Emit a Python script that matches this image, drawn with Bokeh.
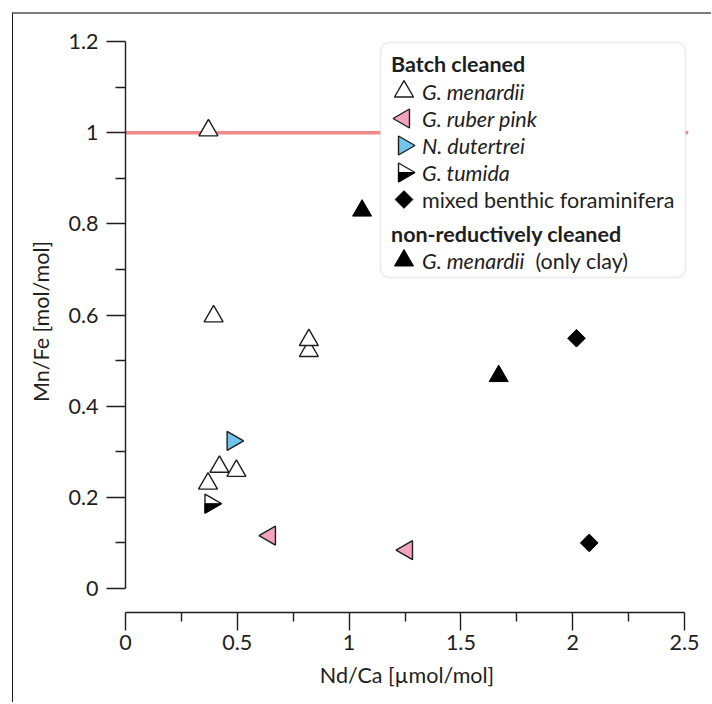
import math
from bokeh.plotting import figure
from bokeh.models import Range1d, FixedTicker, Span, BoxAnnotation, Label
from bokeh.embed import file_html
from bokeh.resources import INLINE

# ---------------- data ----------------
menardii_x = [0.371, 0.394, 0.820, 0.820, 0.420, 0.496, 0.369]
menardii_y = [1.005, 0.597, 0.521, 0.545, 0.267, 0.258, 0.230]
ruber_x = [0.646, 1.259]
ruber_y = [0.116, 0.084]
dutertrei_x = [0.479]
dutertrei_y = [0.324]
tumida_x = [0.380]
tumida_y = [0.186]
benthic_x = [2.017, 2.074]
benthic_y = [0.549, 0.100]
nonred_x = [1.058, 1.669]
nonred_y = [0.829, 0.466]
reference_mnfe = 1.0

x_ticks = [0, 0.5, 1, 1.5, 2, 2.5]
x_tick_labels = ["0", "0.5", "1", "1.5", "2", "2.5"]
x_minor = [0.25, 0.75, 1.25, 1.75, 2.25]
y_ticks = [0, 0.2, 0.4, 0.6, 0.8, 1, 1.2]
y_tick_labels = ["0", "0.2", "0.4", "0.6", "0.8", "1", "1.2"]
y_minor = [0.1, 0.3, 0.5, 0.7, 0.9, 1.1]

x_title = "Nd/Ca [\u00b5mol/mol]"
y_title = "Mn/Fe [mol/mol]"
legend_header1 = "Batch cleaned"
legend_header2 = "non-reductively cleaned"

# ---------------- layout (window pixels) ----------------
OX, OY = 13, 14                          # canvas origin inside the window
CW, CH = 712 - OX, 704 - OY              # canvas size
FL, FR, FT, FB = 125, 688, 30, 612       # frame edges (window px)
AX_X0, AX_X1 = 125, 684                  # window px of x = 0 and x = 2.5
AX_Y0, AX_Y1 = 588, 41                   # window px of y = 0 and y = 1.2
sx = (AX_X1 - AX_X0) / 2.5               # px per x unit
sy = (AX_Y0 - AX_Y1) / 1.2               # px per y unit

FONT = "Lato"
FS = "21.5px"
INK = "#1e1e1e"
SIZE = 19

p = figure(width=CW, height=CH, output_backend="svg", toolbar_location=None,
           x_range=Range1d(0, (FR - FL) / sx),
           y_range=Range1d(-(FB - AX_Y0) / sy, 1.2 + (AX_Y1 - FT) / sy),
           min_border_left=FL - OX, min_border_right=712 - FR,
           min_border_top=FT - OY, min_border_bottom=704 - FB)
p.margin = (12, 0, 0, 12)
p.styles = {"border-top": "2px solid #7c7c7c", "border-left": "1px solid #1e1e1e"}
# extra ranges that map window pixels inside the frame (for the legend)
p.extra_x_ranges = {"cx": Range1d(FL, FR)}
p.extra_y_ranges = {"cy": Range1d(FB, FT)}
p.outline_line_color = None
p.xgrid.visible = False
p.ygrid.visible = False
p.background_fill_color = "white"
p.border_fill_color = "white"

# axes
p.xaxis.ticker = FixedTicker(ticks=x_ticks, minor_ticks=x_minor)
p.yaxis.ticker = FixedTicker(ticks=y_ticks, minor_ticks=y_minor)
p.xaxis.major_label_overrides = {float(v): s for v, s in zip(x_ticks, x_tick_labels)}
p.yaxis.major_label_overrides = {float(v): s for v, s in zip(y_ticks, y_tick_labels)}
p.xaxis.bounds = (0, 2.5)
p.yaxis.bounds = (0, 1.2)
p.xaxis.axis_label = x_title
p.yaxis.axis_label = y_title
for ax in (p.xaxis[0], p.yaxis[0]):
    ax.axis_line_color = INK
    ax.axis_line_width = 1.4
    ax.major_tick_line_color = INK
    ax.major_tick_line_width = 1.4
    ax.minor_tick_line_color = INK
    ax.minor_tick_line_width = 1.4
    ax.major_tick_in = 0
    ax.minor_tick_in = 0
    ax.major_label_text_font = FONT
    ax.major_label_text_font_size = FS
    ax.major_label_text_color = INK
    ax.axis_label_text_font = FONT
    ax.axis_label_text_font_size = FS
    ax.axis_label_text_font_style = "normal"
    ax.axis_label_text_color = INK
p.yaxis.major_tick_out = 19
p.yaxis.minor_tick_out = 10
p.yaxis.major_label_standoff = 8
p.yaxis.axis_label_standoff = 11
p.xaxis.major_tick_out = 18
p.xaxis.minor_tick_out = 9
p.xaxis.major_label_standoff = 4
p.xaxis.axis_label_standoff = 9

# reference line
p.add_layout(Span(location=reference_mnfe, dimension="width", line_color="#f08a8a",
                  line_width=3.5, level="underlay"))

PINK = "#f4a3bf"
BLUE = "#72c4ea"
r = SIZE / 2.0

def half_tumida(cx, cy, ux, uy):
    a = r / math.sqrt(3)
    return ([cx - a * ux, cx - a * ux, cx + 2 * a * ux],
            [cy, cy - r * uy, cy])

# data marks
p.scatter(menardii_x, menardii_y, marker="triangle", size=SIZE,
          fill_color="white", line_color=INK, line_width=1.4)
p.scatter(ruber_x, ruber_y, marker="triangle", angle=math.pi / 2, size=SIZE,
          fill_color=PINK, line_color=INK, line_width=1.4)
p.scatter(dutertrei_x, dutertrei_y, marker="triangle", angle=-math.pi / 2, size=SIZE,
          fill_color=BLUE, line_color=INK, line_width=1.4)
p.scatter(tumida_x, tumida_y, marker="triangle", angle=-math.pi / 2, size=SIZE,
          fill_color="white", line_color=INK, line_width=1.4)
for tx, ty in zip(tumida_x, tumida_y):
    hx, hy = half_tumida(tx, ty, 1 / sx, 1 / sy)
    p.patch(hx, hy, fill_color="black", line_color="black", line_width=1)
p.scatter(benthic_x, benthic_y, marker="square", angle=math.pi / 4, size=12.5,
          fill_color="black", line_color="black")
p.scatter(nonred_x, nonred_y, marker="triangle", size=SIZE,
          fill_color="black", line_color="black")

# legend
LB_L, LB_R, LB_T, LB_B = 380, 685, 42, 277
p.add_layout(BoxAnnotation(left=LB_L, right=LB_R, top=LB_T, bottom=LB_B,
                           x_range_name="cx", y_range_name="cy",
                           fill_color="white", fill_alpha=1, line_color="#c8c8c8",
                           line_width=2, border_radius=9, level="annotation"))

MX = 403.5
TX = 421.5
HX = 390.5
rows = [91, 118, 145, 172, 199]
row2 = 260

def lbl(x, y, text, style="normal"):
    p.add_layout(Label(x=x, y=y, text=text, x_range_name="cx", y_range_name="cy",
                       text_font=FONT, text_font_size=FS, text_font_style=style,
                       text_color=INK, text_baseline="middle", text_align="left",
                       level="overlay"))

lbl(HX, 63, legend_header1, "bold")
lbl(TX, rows[0], "G. menardii", "italic")
lbl(TX, rows[1], "G. ruber pink", "italic")
lbl(TX, rows[2], "N. dutertrei", "italic")
lbl(TX, rows[3], "G. tumida", "italic")
lbl(TX, rows[4], "mixed benthic foraminifera")
lbl(HX, 233, legend_header2, "bold")
lbl(TX, row2, "G. menardii", "italic")
lbl(535, row2, "(only clay)")

kw = dict(x_range_name="cx", y_range_name="cy", level="overlay")
p.scatter([MX], [rows[0]], marker="triangle", size=SIZE, fill_color="white",
          line_color=INK, line_width=1.4, **kw)
p.scatter([MX], [rows[1]], marker="triangle", angle=math.pi / 2, size=SIZE,
          fill_color=PINK, line_color=INK, line_width=1.4, **kw)
p.scatter([MX], [rows[2]], marker="triangle", angle=-math.pi / 2, size=SIZE,
          fill_color=BLUE, line_color=INK, line_width=1.4, **kw)
p.scatter([MX], [rows[3]], marker="triangle", angle=-math.pi / 2, size=SIZE,
          fill_color="white", line_color=INK, line_width=1.4, **kw)
hx, hy = half_tumida(MX, rows[3], 1, -1)
p.patch(hx, hy, fill_color="black", line_color="black", line_width=1, **kw)
p.scatter([MX], [rows[4]], marker="square", angle=math.pi / 4, size=12.5,
          fill_color="black", line_color="black", **kw)
p.scatter([MX], [row2], marker="triangle", size=SIZE, fill_color="black",
          line_color="black", **kw)

open("out.html", "w").write(file_html(p, INLINE))
